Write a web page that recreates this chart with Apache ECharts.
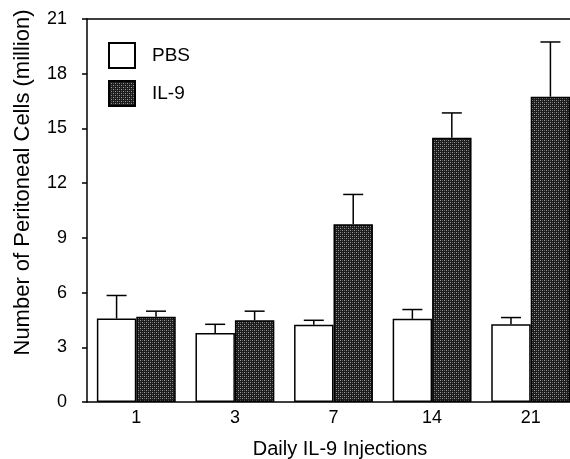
<!DOCTYPE html>
<html>
<head>
<meta charset="utf-8">
<script src="https://cdn.jsdelivr.net/npm/echarts@6/dist/echarts.min.js"></script>
<style>
  html, body { margin: 0; padding: 0; background: #fff; }
  #chart { width: 570px; height: 459px; }
</style>
</head>
<body>
<div id="chart"></div>
<script>
// categories (days of injection)
const days = ["1", "3", "7", "14", "21"];
// mean cell counts (million)
const pbsMean = [4.58, 3.79, 4.23, 4.56, 4.26];
const il9Mean = [4.67, 4.48, 9.74, 14.49, 16.74];
// upper error (SD) for each bar
const pbsErr = [1.26, 0.47, 0.25, 0.51, 0.37];
const il9Err = [0.31, 0.50, 1.64, 1.36, 3.00];
const yTicks = [0, 3, 6, 9, 12, 15, 18, 21];

const font = "'Liberation Sans', Arial, Helvetica, sans-serif";

// stippled dark fill like the printed figure
function stipple() {
  const c = document.createElement("canvas");
  c.width = 4; c.height = 4;
  const ctx = c.getContext("2d");
  ctx.fillStyle = "#1c1c1c";
  ctx.fillRect(0, 0, 4, 4);
  ctx.fillStyle = "#9a9a9a";
  ctx.fillRect(0, 0, 1, 1);
  ctx.fillRect(2, 2, 1, 1);
  ctx.fillStyle = "#5a5a5a";
  ctx.fillRect(2, 0, 1, 1);
  ctx.fillRect(0, 2, 1, 1);
  return c;
}
const il9Fill = { image: stipple(), repeat: "repeat" };

const chart = echarts.init(document.getElementById("chart"));

// error bar renderer: side -1 = left bar, +1 = right bar
function errBar(side, mean, err) {
  return function (params, api) {
    const i = api.value(0);
    const base = api.coord([i, mean[i]]);
    const top = api.coord([i, mean[i] + err[i]]);
    const band = api.size([1, 0])[0];
    const bw = band * 0.4;
    const x = base[0] + side * bw / 2;
    const cap = 10;
    const st = { stroke: "#000", lineWidth: 1.5 };
    return {
      type: "group",
      children: [
        { type: "line", shape: { x1: x, y1: base[1], x2: x, y2: top[1] }, style: st },
        { type: "line", shape: { x1: x - cap, y1: top[1], x2: x + cap, y2: top[1] }, style: st }
      ]
    };
  };
}

const option = {
  animation: false,
  backgroundColor: "#fff",
  textStyle: { fontFamily: font, color: "#000" },
  grid: {
    left: 87, width: 493, top: 19, bottom: 57,
    containLabel: false,
    outerBoundsMode: "none"
  },
  legend: {
    orient: "vertical",
    left: 103,
    top: 37,
    icon: "rect",
    itemWidth: 26,
    itemHeight: 25,
    itemGap: 11,
    data: ["PBS", "IL-9"],
    textStyle: { fontFamily: font, fontSize: 19, color: "#000", padding: [0, 0, 0, 12] }
  },
  xAxis: [
    {
      type: "category",
      data: days,
      name: "Daily IL-9 Injections",
      nameLocation: "middle",
      nameGap: 37,
      nameTextStyle: { fontFamily: font, fontSize: 20, color: "#000", padding: [0, 0, 0, 13] },
      axisLine: { lineStyle: { color: "#000", width: 1.5 } },
      axisTick: { show: false },
      axisLabel: { fontFamily: font, fontSize: 18, color: "#000", margin: 7 }
    },
    {
      type: "category",
      data: days,
      position: "top",
      axisLine: { lineStyle: { color: "#000", width: 1.5 } },
      axisTick: { show: false },
      axisLabel: { show: false }
    }
  ],
  yAxis: {
    type: "value",
    min: 0,
    max: 21,
    interval: 3,
    name: "Number of Peritoneal Cells (million)",
    nameLocation: "middle",
    nameGap: 53,
    nameTextStyle: { fontFamily: font, fontSize: 22, color: "#000", padding: [0, 0, 0, 56] },
    axisLine: { show: true, lineStyle: { color: "#000", width: 1.5 } },
    axisTick: { show: true, length: 5, lineStyle: { color: "#000", width: 1.5 } },
    axisLabel: {
      fontFamily: font, fontSize: 18, color: "#000", margin: 20,
      formatter: v => (yTicks.includes(v) ? String(v) : "")
    },
    splitLine: { show: false }
  },
  series: [
    {
      name: "PBS",
      type: "bar",
      data: pbsMean,
      barGap: "0%",
      barCategoryGap: "20%",
      itemStyle: { color: "#fff", borderColor: "#000", borderWidth: 1.5 }
    },
    {
      name: "IL-9",
      type: "bar",
      data: il9Mean,
      itemStyle: { color: il9Fill, borderColor: "#000", borderWidth: 1.5 }
    },
    {
      type: "custom",
      renderItem: errBar(-1, pbsMean, pbsErr),
      data: days.map((d, i) => [i]),
      encode: { x: 0 },
      z: 5
    },
    {
      type: "custom",
      renderItem: errBar(1, il9Mean, il9Err),
      data: days.map((d, i) => [i]),
      encode: { x: 0 },
      z: 5
    }
  ]
};

chart.setOption(option);
</script>
</body>
</html>
